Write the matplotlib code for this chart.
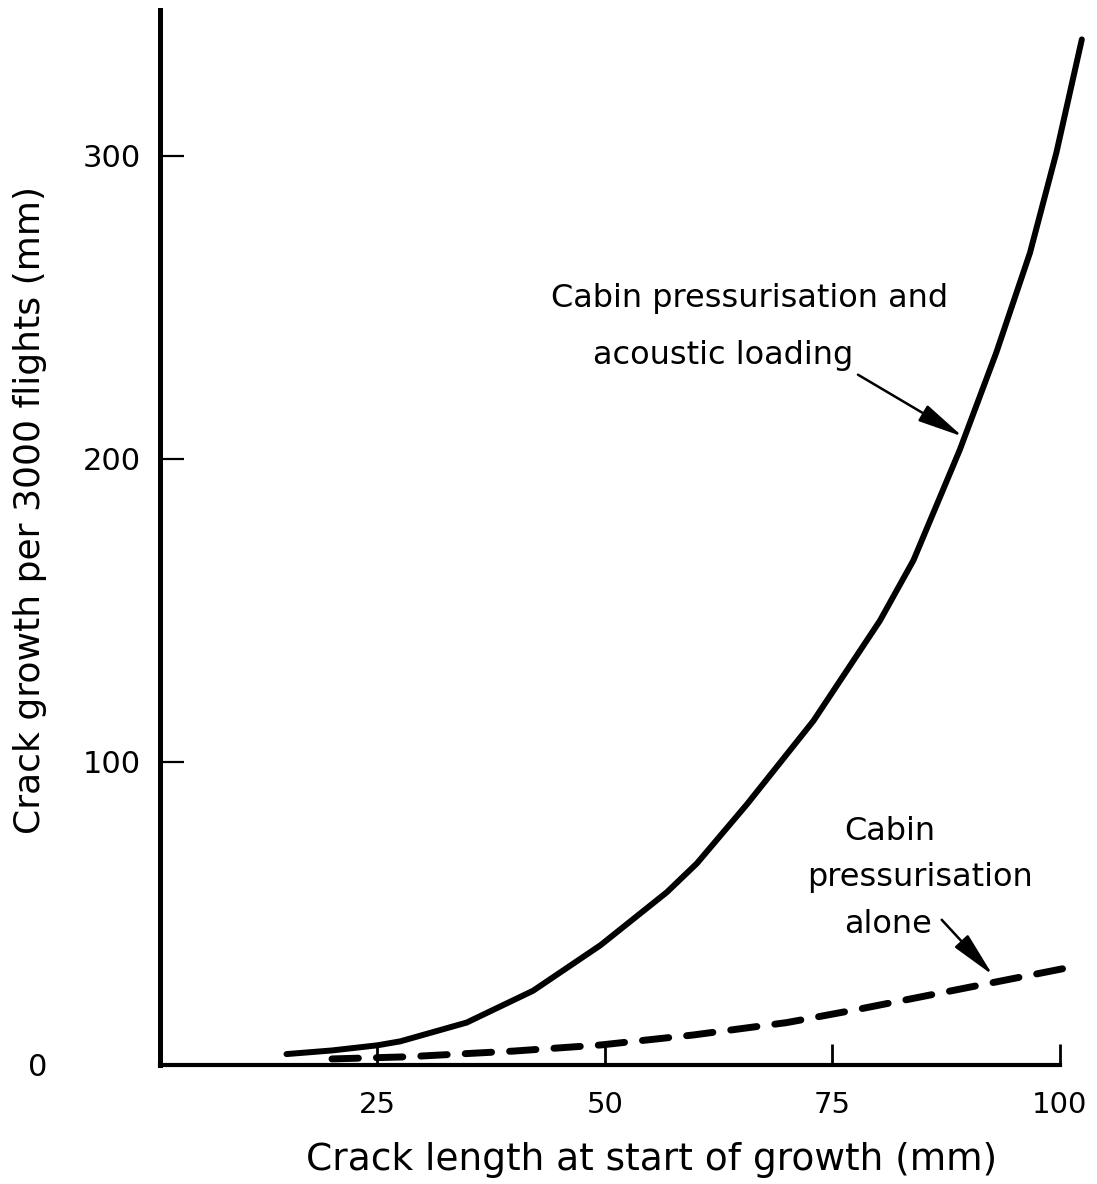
"""Crack growth per 3000 flights vs crack length at start of growth."""

import matplotlib

matplotlib.use("Agg")
import matplotlib.pyplot as plt

# ---------------------------------------------------------------- data
# crack length at start of growth (mm)
x_acoustic = [15, 20, 25, 27.5, 34.8, 42.1, 49.5, 56.8, 60.1, 65.6, 72.9, 80.2, 83.9, 89,
              93, 96.7, 99.6, 102.4]
# crack growth per 3000 flights (mm): pressurisation + acoustic loading
y_acoustic = [3.6, 4.8, 6.5, 7.8, 14, 24.5, 39.5, 57, 66.5, 86, 113.5, 146.5, 166.5,
              203, 235, 267.9, 300.9, 338.3]

x_press = [20, 28.2, 40, 49.5, 59.7, 70, 77.7, 92.3, 101.4]
# crack growth per 3000 flights (mm): pressurisation alone
y_press = [2, 2.7, 4.6, 6.6, 9.9, 14.0, 18.3, 27, 32.4]

x_ticks = [25, 50, 75, 100]
y_ticks = [100, 200, 300]

plt.rcParams.update({
    "font.family": "DejaVu Sans",
    "font.size": 22,
})

fig = plt.figure(figsize=(10.97, 11.84), dpi=100)
ax = fig.add_axes([160 / 1097, 1 - 1065 / 1184, 900 / 1097, 1055 / 1184])

ax.plot(x_acoustic, y_acoustic, "-", color="black", lw=4.3, clip_on=False,
        solid_capstyle="round", solid_joinstyle="round")
ax.plot(x_press, y_press, "--", color="black", lw=5, clip_on=False,
        dashes=(3.8, 2.6), dash_capstyle="round", dash_joinstyle="round")

ax.set_xlim(1.1, 100)
ax.set_ylim(0, 348)

for side in ("top", "right"):
    ax.spines[side].set_visible(False)
ax.spines["left"].set_linewidth(3.6)
ax.spines["bottom"].set_linewidth(3.0)

ax.set_xticks(x_ticks)
ax.set_xticklabels([str(v) for v in x_ticks])
ax.set_yticks(y_ticks)
ax.set_yticklabels([str(v) for v in y_ticks])
ax.tick_params(axis="x", direction="in", length=15, width=2, pad=19, labelsize=21)
ax.tick_params(axis="y", direction="in", length=17, width=1.6, pad=14, labelsize=22)

# hand-placed zero label on the y axis
fig.text(38 / 1097, 1 - 1068 / 1184, "0", ha="center", va="center", fontsize=22)

fig.text(652 / 1097, 1 - 1160 / 1184, "Crack length at start of growth (mm)",
         ha="center", va="center", fontsize=27)
fig.text(30 / 1097, 1 - 510 / 1184, "Crack growth per 3000 flights (mm)",
         ha="center", va="center", rotation=90, fontsize=26)

# ---- curve annotations
arrow = dict(arrowstyle="-|>,head_length=1.4,head_width=0.28", color="black", lw=1.8,
             mutation_scale=20, shrinkA=0, shrinkB=0)

ax.text(65.9, 253, "Cabin pressurisation and", ha="center", va="center", fontsize=23)
ax.text(63.0, 234, "acoustic loading", ha="center", va="center", fontsize=23)
ax.annotate("", xy=(89.3, 207.3), xytext=(77.8, 227.7), arrowprops=arrow)

ax.text(81.3, 76.9, "Cabin", ha="center", va="center", fontsize=23)
ax.text(84.6, 62.0, "pressurisation", ha="center", va="center", fontsize=23)
ax.text(81.1, 46.2, "alone", ha="center", va="center", fontsize=23)
ax.annotate("", xy=(92.6, 29.7), xytext=(87.0, 47.9), arrowprops=arrow)

fig.savefig("out.png", dpi=100)
